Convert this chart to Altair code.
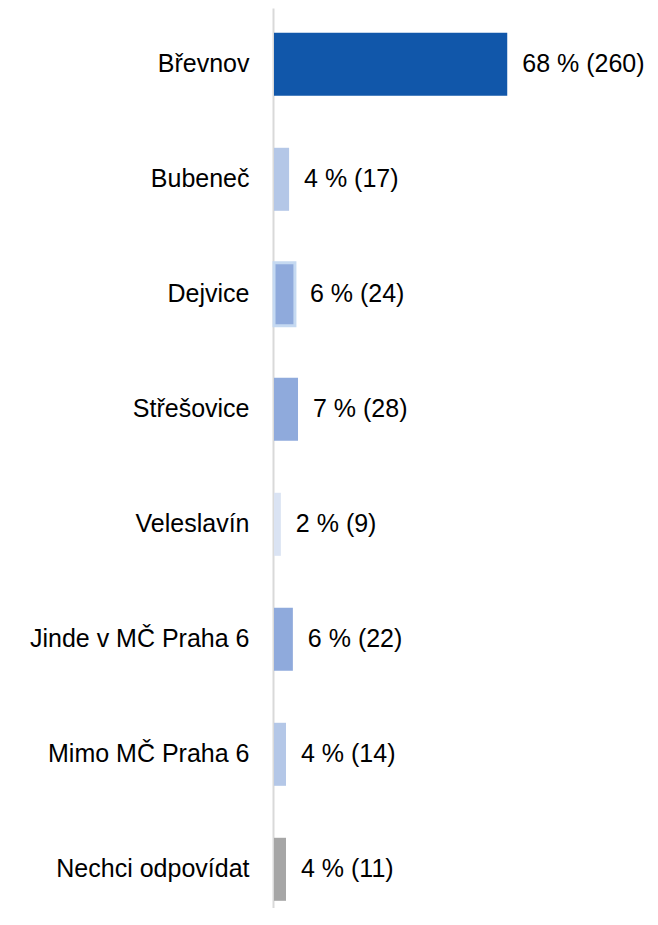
import altair as alt
import pandas as pd

categories = ["Břevnov", "Bubeneč", "Dejvice", "Střešovice", "Veleslavín",
              "Jinde v MČ Praha 6", "Mimo MČ Praha 6", "Nechci odpovídat"]
percent = [68, 4.4, 6.1, 7.0, 2.0, 5.5, 3.5, 3.5]
labels = ["68 % (260)", "4 % (17)", "6 % (24)", "7 % (28)", "2 % (9)",
          "6 % (22)", "4 % (14)", "4 % (11)"]
colors = ["#1157AA", "#B4C7E7", "#8FAADC", "#8FAADC", "#DAE3F3",
          "#8FAADC", "#B4C7E7", "#A6A6A6"]
strokes = ["#1157AA", "#B4C7E7", "#C5D9F1", "#8FAADC", "#DAE3F3",
           "#8FAADC", "#B4C7E7", "#A6A6A6"]
stroke_widths = [0, 0, 3, 0, 0, 0, 0, 0]

df = pd.DataFrame({
    "cat": categories, "pct": percent, "label": labels,
    "color": colors, "stroke": strokes, "sw": stroke_widths,
})

FONT = "Liberation Sans"
FS = 25

y_enc = alt.Y("cat:N", sort=categories, title=None,
              scale=alt.Scale(paddingInner=0.452, paddingOuter=0.139, align=0.775),
              axis=alt.Axis(ticks=False, tickSize=0, domain=True,
                            domainColor="#D9D9D9", domainWidth=2, offset=1,
                            labelPadding=24, labelFont=FONT, labelFontSize=FS,
                            labelColor="#000000", labelLimit=400, grid=False))
x_enc = alt.X("pct:Q", scale=alt.Scale(domain=[0, 100]), axis=None)

bars = alt.Chart(df).mark_bar().encode(
    x=x_enc, y=y_enc,
    color=alt.Color("color:N", scale=None),
    stroke=alt.Stroke("stroke:N", scale=None),
    strokeWidth=alt.StrokeWidth("sw:Q", scale=None),
)

text = alt.Chart(df).mark_text(
    align="left", baseline="middle", dx=15, font=FONT, fontSize=FS,
    color="#000000"
).encode(x=x_enc, y=alt.Y("cat:N", sort=categories), text="label:N")

chart = alt.layer(bars, text).properties(
    width=343, height=900,
    autosize=alt.AutoSizeParams(type="none"),
    padding={"left": 266, "top": 0, "right": 33, "bottom": 0},
).configure_view(stroke=None)

chart.save("out.html", embed_options={"renderer": "svg", "actions": False})
